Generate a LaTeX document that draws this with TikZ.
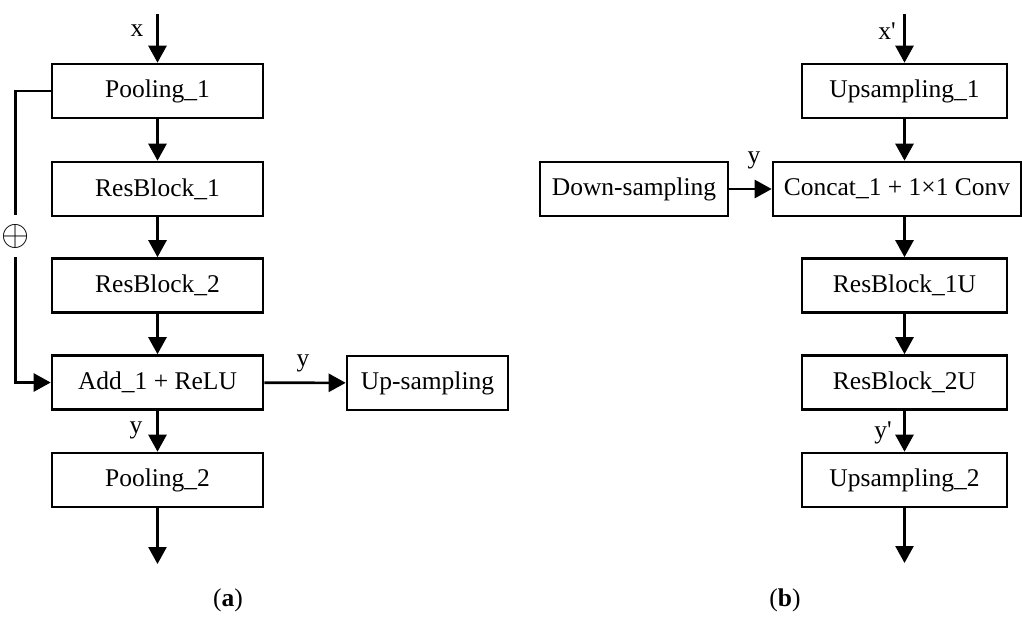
\documentclass[tikz,border=0pt]{standalone}
\usepackage{fontspec}
\setmainfont{Liberation Serif}
\usetikzlibrary{arrows.meta}
\begin{document}
\begin{tikzpicture}[x=1pt,y=-1pt,
  font=\fontsize{25.5}{30}\selectfont,
  line width=2.6pt,
  blk/.style={draw,line width=2.6pt,minimum height=54pt,inner sep=0pt,anchor=center},
  lbl/.style={inner sep=0pt,anchor=center},
  flow/.style={-{Triangle[length=17pt,width=18pt]}}]
\useasboundingbox (0,0) rectangle (1022,619);

% (a) encoder stage
\node[blk,minimum width=211pt] (p1) at (157.5,91) {Pooling\_1};
\node[blk,minimum width=211pt] (r1) at (157.5,189) {ResBlock\_1};
\node[blk,minimum width=211pt] (r2) at (157.5,285.5) {ResBlock\_2};
\node[blk,minimum width=211pt] (add) at (157.5,382.5) {Add\_1 + ReLU};
\node[blk,minimum width=211pt] (p2) at (157.5,480) {Pooling\_2};
\node[blk,minimum width=161pt] (up) at (427.5,383) {Up-sampling};
\coordinate (ain) at (157.5,14);
\coordinate (aout) at (157.5,564);

\draw[flow] (ain) -- (p1);
\draw[flow] (p1) -- (r1);
\draw[flow] (r1) -- (r2);
\draw[flow] (r2) -- (add);
\draw[flow] (add) -- (p2);
\draw[flow] (p2) -- (aout);
\draw[flow] (add) -- (up);
\draw[flow] (p1.west) -- ++(-35,0) coordinate (sk) |- (add.west);
\node[fill=white,inner xsep=3pt,inner ysep=9pt] (plus) at (sk |- 0,236) {\scalebox{1.45}{$\oplus$}};

\node[lbl] (lx) at (137,31) {x};
\node[lbl] (ly1) at (303,363) {y};
\node[lbl] (ly2) at (136,430) {y};
\node[lbl] (capa) at (228,600) {(\textbf{a})};

% (b) decoder stage
\node[blk,minimum width=205pt] (u1) at (904.5,91) {Upsampling\_1};
\node[blk,minimum width=248pt] (cc) at (897,189) {Concat\_1 + 1×1 Conv};
\node[blk,minimum width=188pt] (dn) at (634,189) {Down-sampling};
\node[blk,minimum width=205pt] (r1u) at (904.5,285.5) {ResBlock\_1U};
\node[blk,minimum width=205pt] (r2u) at (904.5,382.5) {ResBlock\_2U};
\node[blk,minimum width=205pt] (u2) at (904.5,480) {Upsampling\_2};
\coordinate (bin) at (904.5,14);
\coordinate (bout) at (904.5,563);

\draw[flow] (bin) -- (u1);
\draw[flow] (u1.south) -- (u1.south |- cc.north);
\draw[flow] (u1.south |- cc.south) -- (r1u.north);
\draw[flow] (r1u) -- (r2u);
\draw[flow] (r2u) -- (u2);
\draw[flow] (u2) -- (bout);
\draw[flow] (dn) -- (cc);

\node[lbl] (lxp) at (887,31) {x\textquotesingle};
\node[lbl] (ly3) at (754,160) {y};
\node[lbl] (lyp) at (883,433) {y\textquotesingle};
\node[lbl] (capb) at (785,600) {(\textbf{b})};
\end{tikzpicture}
\end{document}
